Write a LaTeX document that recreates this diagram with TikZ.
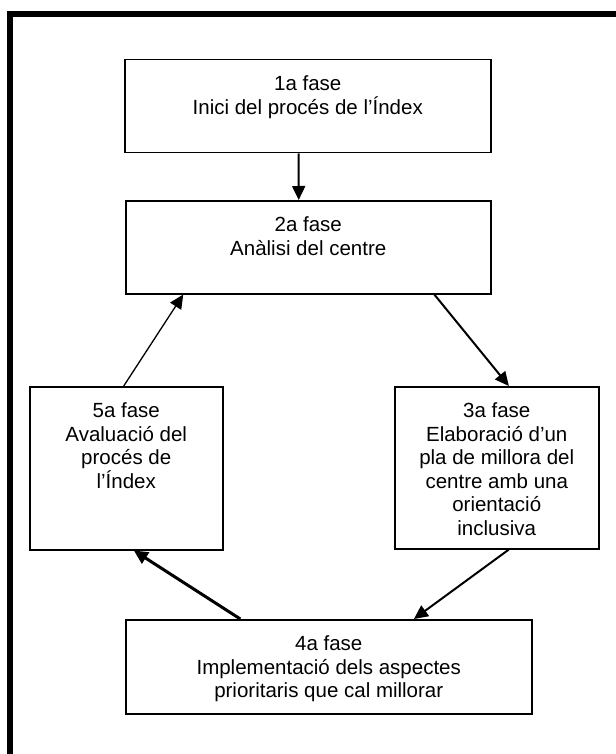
\documentclass[tikz,border=0pt]{standalone}
\usepackage{fontspec}
\setmainfont{Liberation Sans}
\usetikzlibrary{arrows.meta,calc}
\newcommand{\phasetext}[3]{\parbox[c][#2pt][t]{#1pt}{\centering\fontsize{20.5pt}{23.5pt}\selectfont\vspace*{16pt}#3\par}}
\tikzset{
  phase/.style={draw=black, line width=1.5pt, inner sep=0pt, anchor=north west, fill=white},
  conn/.style={draw=black, line width=2pt, -{Triangle[length=14pt,width=13pt]}},
  thinconn/.style={conn, line width=1.3pt},
  thickconn/.style={conn, line width=3pt},
  frameline/.style={draw=black, line width=6pt}
}
\begin{document}
\begin{tikzpicture}[x=1pt,y=-1pt]
\useasboundingbox (0,0) rectangle (615,754);
\fill[white] (0,0) rectangle (615,754);
\coordinate (fbl) at (10,760);
\coordinate (ftl) at (10,14);
\coordinate (ftr) at (620,14);
\draw[frameline] (fbl) -- (ftl) -- (ftr);

\node[phase] (b1) at (124,59) {\phasetext{366}{93}{1a fase\\Inici del procés de l’Índex}};
\node[phase] (b2) at (125,200) {\phasetext{365}{93}{2a fase\\Anàlisi del centre}};
\node[phase] (b3) at (394,386) {\phasetext{204}{162}{3a fase\\Elaboració d’un\\pla de millora del\\centre amb una\\orientació\\inclusiva}};
\node[phase] (b5) at (29,386) {\phasetext{193}{163}{5a fase\\Avaluació del\\procés de\\l’Índex}};
\node[phase] (b4) at (125,619) {\phasetext{406}{94}{4a fase\\Implementació dels aspectes\\prioritaris que cal millorar}};

\draw[conn] ($(b1.south west)!0.475!(b1.south east)$) -- ($(b2.north west)!0.474!(b2.north east)$);
\draw[conn] ($(b2.south west)!0.844!(b2.south east)$) -- ($(b3.north west)!0.559!(b3.north east)$);
\draw[conn] ($(b3.south west)!0.559!(b3.south east)$) -- ($(b4.north west)!0.709!(b4.north east)$);
\draw[thickconn] ($(b4.north west)!0.283!(b4.north east)$) -- ($(b5.south west)!0.539!(b5.south east)$);
\draw[thinconn] ($(b5.north west)!0.487!(b5.north east)$) -- ($(b2.south west)!0.159!(b2.south east)$);
\end{tikzpicture}
\end{document}
